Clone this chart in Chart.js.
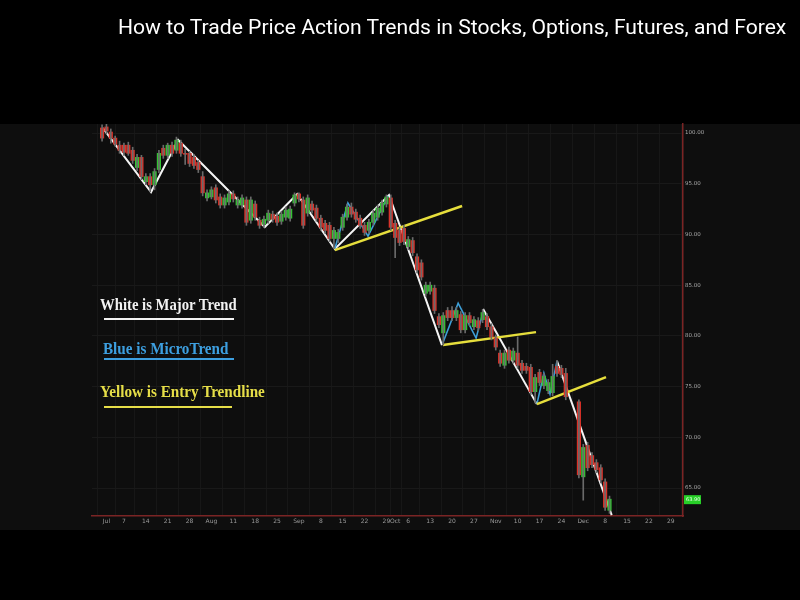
<!DOCTYPE html>
<html>
<head>
<meta charset="utf-8">
<script src="https://cdn.jsdelivr.net/npm/chart.js@4.4.1/dist/chart.umd.min.js"></script>
<style>
  html, body { margin: 0; padding: 0; background: #000; }
  #wrap { position: relative; width: 800px; height: 600px; overflow: hidden; background: #000; }
  #chart { position: absolute; left: 0; top: 0; }
  .title { position: absolute; left: 118px; top: 15px; font-family: Roboto, sans-serif; font-size: 20px; color: #fff; white-space: nowrap; transform-origin: left top; }
  .note { position: absolute; font-family: 'Liberation Serif', serif; font-weight: bold; font-size: 16px; white-space: nowrap; transform-origin: left top; }
  .rule { position: absolute; height: 2px; }
</style>
</head>
<body>
<div id="wrap">
  <canvas id="chart" width="800" height="600"></canvas>
  <div class="title" id="title" data-w="668">How to Trade Price Action Trends in Stocks, Options, Futures, and Forex</div>
  <div class="note" style="left:100px;top:296px;color:#f2f2f2" data-w="137">White is Major Trend</div>
  <div class="rule" style="left:104px;top:318px;width:130px;background:#f2f2f2"></div>
  <div class="note" style="left:103px;top:340px;color:#3d9fe0" data-w="125">Blue is MicroTrend</div>
  <div class="rule" style="left:104px;top:358px;width:130px;background:#3d9fe0"></div>
  <div class="note" style="left:100px;top:383px;color:#e6de48" data-w="165">Yellow is Entry Trendline</div>
  <div class="rule" style="left:104px;top:406px;width:128px;background:#e6de48"></div>
</div>
<script>
// trading-day slots (5 per week, Mon Jun 30 = 0)
const slots = [0,1,2,3,4,5,6,7,8,9,10,11,12,13,14,15,16,17,18,19,20,21,22,23,24,25,26,27,28,29,
  30,31,32,33,34,35,36,37,38,39,40,41,42,43,44,45,46,47,48,49,50,51,52,53,54,55,56,57,58,59,
  60,61,62,63,64,65,66,67,68,69,70,71,72,73,74,75,76,77,78,79,80,81,82,83,84,85,86,87,88,89,
  90,91,92,93,94,95,96,97,98,99,100,101,102,103,104,105,106,109,110,111,112,113,114,115,116];
const opens = [100.5,100.6,100.1,99.5,98.8,98.8,98.8,98.3,96.6,97.6,95.2,95.7,94.9,96.4,98.5,97.8,98.8,98.3,99.0,98.0,
  98.0,97.6,97.1,95.7,93.6,93.7,94.6,93.7,92.9,93.2,94.0,92.9,92.9,93.4,91.4,93.0,91.4,91.0,91.4,92.0,
  91.8,91.3,91.7,91.6,93.1,94.0,93.4,92.1,93.0,92.6,91.6,91.1,90.9,89.6,89.6,90.7,91.7,92.7,92.2,91.6,
  90.9,90.4,91.2,91.7,92.2,93.0,93.6,91.1,90.4,90.6,88.8,89.4,87.8,87.2,84.2,84.4,84.7,81.9,80.3,82.5,
  82.5,81.8,82.1,80.6,82.0,80.9,81.5,81.6,81.9,80.9,79.8,78.3,77.1,78.6,77.6,78.3,77.3,77.0,76.9,74.5,
  76.4,75.1,74.6,74.4,77.0,76.8,76.3,73.5,66.1,69.2,68.2,67.5,67.0,65.6,62.8];
const highs = [100.8,100.9,100.4,99.7,99.2,99.0,99.1,98.6,97.9,97.8,96.0,96.0,96.5,98.3,98.8,99.0,99.1,99.6,99.3,98.4,
  98.2,97.9,97.3,96.2,94.4,94.7,94.9,94.0,93.9,94.3,94.3,93.7,93.9,93.7,93.7,93.3,91.7,91.8,92.4,92.3,
  92.1,92.3,92.7,92.8,94.1,94.1,93.7,93.9,93.3,92.9,91.9,91.4,91.2,90.7,90.5,92.0,93.0,93.1,92.5,91.9,
  91.2,91.5,92.4,92.9,93.4,93.9,93.9,91.4,90.7,90.9,89.8,89.7,88.1,87.5,85.3,85.3,85.0,82.2,82.3,82.8,
  82.9,82.8,82.4,82.3,82.3,81.9,81.8,82.6,82.2,81.2,80.1,78.6,78.6,78.9,78.8,79.9,77.6,77.3,77.2,76.2,
  76.7,76.3,75.7,77.2,77.6,77.1,76.8,73.7,69.3,69.5,68.5,67.8,67.3,65.9,64.2];
const lows = [99.2,99.9,99.0,98.7,98.0,97.8,97.8,97.0,96.3,95.4,94.9,94.2,94.4,96.1,97.5,97.5,97.7,98.0,97.7,96.9,
  96.7,96.5,96.1,93.8,93.3,93.5,93.1,92.6,92.6,92.9,93.2,92.6,92.6,90.9,91.1,91.4,90.6,90.7,91.1,91.2,
  90.9,91.0,91.4,91.3,92.8,93.2,90.6,91.8,92.1,91.3,90.4,90.1,89.3,88.6,89.2,90.4,91.4,91.7,91.2,90.6,
  89.9,90.1,90.9,91.4,91.9,92.7,90.4,87.7,88.9,89.0,88.5,87.9,86.2,85.5,83.9,84.1,82.2,80.8,79.1,81.5,
  81.5,81.5,80.3,80.3,81.0,80.6,80.5,81.3,80.6,79.6,78.6,77.0,76.8,77.3,77.3,76.8,76.3,76.3,74.2,73.4,
  75.1,74.8,74.3,74.1,76.0,75.9,73.7,66.0,63.8,66.7,67.0,66.5,65.5,62.8,62.5];
const closes = [99.5,100.2,99.5,98.9,98.3,98.1,98.0,97.3,97.6,95.7,95.7,94.9,96.2,98.0,97.8,98.8,98.0,99.3,98.0,97.9,
  97.0,96.8,96.4,94.1,94.1,94.4,93.4,92.9,93.6,94.0,93.5,93.4,93.6,91.2,93.4,91.7,90.9,91.5,92.1,91.5,
  91.2,92.0,92.4,92.5,93.9,93.5,90.9,93.6,92.4,91.6,90.7,90.4,89.6,90.4,90.2,91.7,92.7,92.0,91.5,90.9,
  90.2,91.2,92.1,92.6,93.1,93.7,90.7,89.7,89.2,89.3,89.5,88.2,86.5,85.8,85.0,85.0,82.5,81.1,82.0,81.8,
  81.8,82.5,80.6,82.0,81.3,81.6,80.8,82.3,80.9,79.9,78.9,77.3,78.3,77.6,78.5,77.1,76.6,76.6,74.5,75.9,
  75.4,76.0,75.4,76.0,76.3,76.2,74.0,66.3,69.0,67.0,67.3,66.8,65.8,63.1,63.9];

// hand-drawn trend annotations: [slot, price]
const majorTrend1 = [[0.2,100.49],[11.2,94.18],[17.4,99.31],[37.2,90.73],[44.6,93.98],[53.2,88.56],[65.6,93.89],[77.7,79.09]];
const majorTrend2 = [[87.1,82.64],[99.4,73.27]];
const majorTrend3 = [[104.0,77.51],[116.5,62.33]];
const microTrend1 = [[53.2,88.56],[56.2,93.10],[60.8,89.84],[65.4,93.79]];
const microTrend2 = [[77.9,79.29],[81.4,83.23],[85.5,79.78],[87.1,82.35]];
const microTrend3 = [[99.4,73.27],[101.0,76.33],[102.4,74.26],[104.0,77.51]];
const entryLine1 = [[53.2,88.46],[82.3,92.80]];
const entryLine2 = [[77.9,79.09],[99.2,80.37]];
const entryLine3 = [[99.4,73.27],[115.2,75.94]];

const xTickSlots = [1,5,10,15,20,25,30,35,40,45,50,55,60,65,67,70,75,80,85,90,95,100,105,110,115,120,125,130];
const xTickLabels = ['Jul','7','14','21','28','Aug','11','18','25','Sep','8','15','22','29','Oct','6','13','20','27','Nov','10','17','24','Dec','8','15','22','29'];
const yTickValues = [65,70,75,80,85,90,95,100];

const RED = '#dc3128';
const GREEN = '#33c433';
const bodyColors = closes.map((c, i) => c >= opens[i] ? GREEN : RED);

const toXY = pts => pts.map(p => ({ x: p[0], y: p[1] }));
const trendSet = (pts, color, width) => ({
    type: 'line',
    data: toXY(pts),
    borderColor: color,
    borderWidth: width,
    pointRadius: 0,
    tension: 0,
    fill: false
});

const backdrop = {
    id: 'backdrop',
    beforeDraw(chart) {
        const ctx = chart.ctx;
        ctx.save();
        ctx.fillStyle = '#000';
        ctx.fillRect(0, 0, 800, 600);
        ctx.fillStyle = '#0e0e0e';
        ctx.fillRect(0, 124, 800, 406);
        ctx.restore();
    }
};

const priceTag = {
    id: 'priceTag',
    afterDraw(chart) {
        const ctx = chart.ctx;
        const last = closes[closes.length - 1];
        const y = chart.scales.y.getPixelForValue(last);
        const x = chart.chartArea.right + 1;
        ctx.save();
        ctx.fillStyle = '#27cf27';
        ctx.fillRect(x, y - 4, 17, 9);
        ctx.fillStyle = '#eaffea';
        ctx.font = '5px "DejaVu Sans"';
        ctx.textBaseline = 'middle';
        ctx.fillText(last.toFixed(2), x + 2, y + 0.5);
        ctx.restore();
    }
};

new Chart(document.getElementById('chart'), {
    type: 'bar',
    data: {
        datasets: [
            {
                label: 'Wick',
                data: slots.map((s, i) => ({ x: s, y: [lows[i], highs[i]] })),
                backgroundColor: '#6a6a6a',
                barThickness: 1,
                grouped: false
            },
            {
                label: 'Body',
                data: slots.map((s, i) => ({ x: s, y: [opens[i], closes[i]] })),
                backgroundColor: bodyColors,
                barThickness: 3.5,
                minBarLength: 1,
                grouped: false
            },
            trendSet(entryLine1, '#e6de3c', 2.5),
            trendSet(entryLine2, '#e6de3c', 2.5),
            trendSet(entryLine3, '#e6de3c', 2.5),
            trendSet(microTrend1, '#3d9fd8', 1.6),
            trendSet(microTrend2, '#3d9fd8', 1.6),
            trendSet(microTrend3, '#3d9fd8', 1.6),
            trendSet(majorTrend1, '#f4f4f4', 2),
            trendSet(majorTrend2, '#f4f4f4', 2),
            trendSet(majorTrend3, '#f4f4f4', 2)
        ]
    },
    options: {
        responsive: false,
        animation: false,
        layout: { padding: { left: 92, right: 96, top: 124, bottom: 70 } },
        plugins: { legend: { display: false }, tooltip: { enabled: false } },
        scales: {
            x: {
                type: 'linear',
                min: -2.3,
                max: 132.8,
                offset: false,
                afterBuildTicks: axis => { axis.ticks = xTickSlots.map(v => ({ value: v })); },
                afterFit: axis => { axis.height = 14; },
                ticks: {
                    autoSkip: false,
                    maxRotation: 0,
                    padding: 2,
                    color: '#9a9a9a',
                    font: { size: 6, family: 'DejaVu Sans' },
                    callback: (v, i) => xTickLabels[i]
                },
                grid: { color: '#171717', drawTicks: false },
                border: { color: '#7a2424', width: 1.5 }
            },
            y: {
                position: 'right',
                min: 62.24,
                max: 100.89,
                afterBuildTicks: axis => { axis.ticks = yTickValues.map(v => ({ value: v })); },
                afterFit: axis => { axis.width = 21; },
                ticks: {
                    padding: 2,
                    color: '#a8a8a8',
                    font: { size: 5.5, family: 'DejaVu Sans' },
                    callback: v => v.toFixed(2)
                },
                grid: { color: '#191919', drawTicks: false },
                border: { color: '#7a2424', width: 1.5 }
            }
        }
    },
    plugins: [backdrop, priceTag]
});

// squeeze text to the widths seen in the video frame
document.querySelectorAll('[data-w]').forEach(el => {
    const w = +el.dataset.w;
    el.style.transform = 'scaleX(' + (w / el.offsetWidth) + ')';
});
</script>
</body>
</html>
